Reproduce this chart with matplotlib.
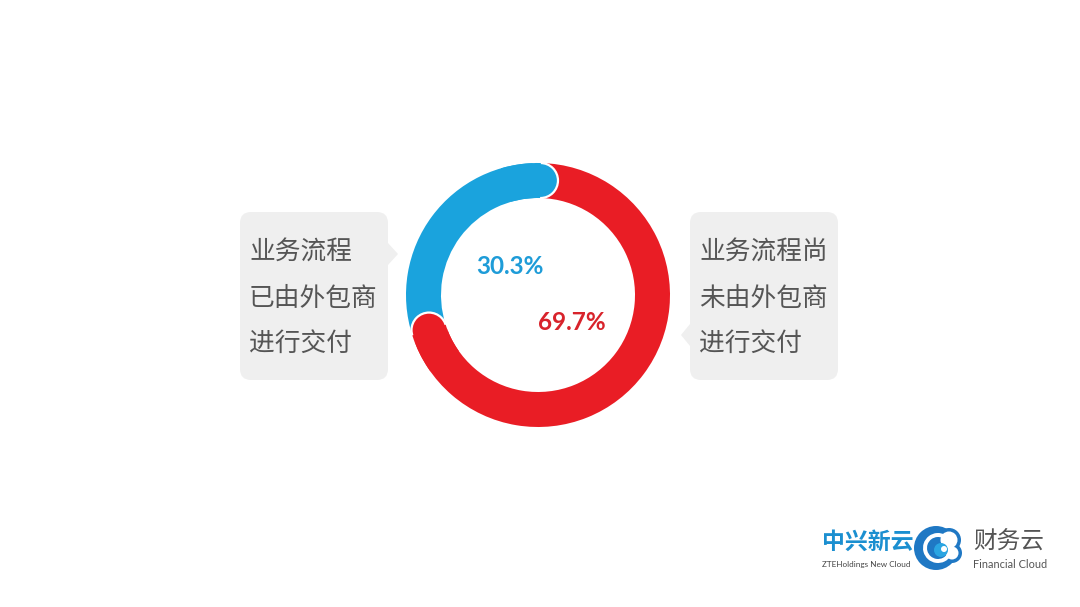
import numpy as np
import matplotlib
matplotlib.use("Agg")
import matplotlib.pyplot as plt
from matplotlib.patches import Wedge, Circle, FancyBboxPatch, Polygon

W, H = 1080, 607

# data
shares = [30.3, 69.7]
share_labels = ["30.3%", "69.7%"]
left_lines = ["业务流程", "已由外包商", "进行交付"]
right_lines = ["业务流程尚", "未由外包商", "进行交付"]
ring_colors = ["#1AA3DD", "#E91D25"]
pct_colors = ["#1E9CD8", "#D8232B"]

CJK = ["Noto Sans CJK SC", "DejaVu Sans"]
LAT = ["Lato", "DejaVu Sans"]


def Y(y):
    # image rows -> data y
    return H - y


fig = plt.figure(figsize=(W / 100, H / 100), dpi=100)
ax = fig.add_axes([0, 0, 1, 1])
ax.set_xlim(0, W); ax.set_ylim(0, H); ax.axis("off")
fig.patch.set_facecolor("white")

# ---- donut with rounded ends ----
cx, cy = 538, Y(295)
r_out, ring = 132, 35
r_mid = r_out - ring / 2
top = 80                                   # boundary at the top (deg)
cap = np.degrees((ring / 2) / r_mid)       # angle taken by a round cap

spans = np.array(shares) / sum(shares) * 360
starts = top + np.concatenate([[0], np.cumsum(spans)[:-1]])
for a0, sp, c in zip(starts, spans, ring_colors):
    ax.add_patch(Wedge((cx, cy), r_out, a0 + cap, a0 + sp + cap, width=ring,
                       facecolor=c, edgecolor="none", zorder=2))
for a0, c in zip(starts, ring_colors):
    t = np.radians(a0 + cap)
    ax.add_patch(Circle((cx + r_mid * np.cos(t), cy + r_mid * np.sin(t)), ring / 2,
                        facecolor=c, edgecolor="white", lw=1.6, zorder=3))
    ax.add_patch(Wedge((cx, cy), r_out, a0 + cap, a0 + 3 * cap, width=ring,
                       facecolor=c, edgecolor="none", zorder=4))

ax.text(510, Y(266), share_labels[0], color=pct_colors[0], fontsize=17.5,
        family=LAT, weight="bold", ha="center", va="center", zorder=5)
ax.text(572, Y(322), share_labels[1], color=pct_colors[1], fontsize=17.5,
        family=LAT, weight="bold", ha="center", va="center", zorder=5)

# ---- callout boxes ----
box_c = "#EFEFEF"
txt_c = "#555555"
for x0, pointer, lines in [
        (240, [(388, Y(243)), (398, Y(254)), (388, Y(265))], left_lines),
        (690, [(690, Y(324)), (681, Y(335)), (690, Y(346))], right_lines)]:
    ax.add_patch(FancyBboxPatch((x0, Y(380)), 148, 168,
                                boxstyle="round,pad=0,rounding_size=11",
                                facecolor=box_c, edgecolor="none", zorder=1))
    ax.add_patch(Polygon(pointer, closed=True, facecolor=box_c,
                         edgecolor="none", zorder=1))
    for yy, s in zip([253, 299, 344], lines):
        ax.text(x0 + 9, Y(yy), s, color=txt_c, fontsize=18.5, family=CJK,
                ha="left", va="center", zorder=2)

# ---- logo ----
ax.text(822, Y(542), "中兴新云", color="#1B8FD0", fontsize=16.5, family=CJK,
        ha="left", va="center", weight="bold")
ax.text(822, Y(564), "ZTEHoldings New Cloud", color="#444444", fontsize=5.9,
        family=LAT, ha="left", va="center")
lx, ly = 936, Y(548)
dark, light = "#1F78C4", "#2AA5E2"
ax.add_patch(Circle((lx, ly), 22, facecolor=dark, edgecolor="none", zorder=1))
ax.add_patch(Circle((lx + 13, ly + 8), 12, facecolor=dark, edgecolor="none", zorder=1))
ax.add_patch(Circle((lx + 16, ly - 5), 10, facecolor=dark, edgecolor="none", zorder=1))
ax.add_patch(Circle((lx + 13, ly + 8), 8.5, facecolor="white", edgecolor="none", zorder=2))
ax.add_patch(Circle((lx + 16, ly - 5), 6.5, facecolor="white", edgecolor="none", zorder=2))
ax.add_patch(Wedge((lx + 2, ly), 15, 60, 330, width=4, facecolor="white",
                   edgecolor="none", zorder=2))
ax.add_patch(Circle((lx + 5, ly - 2), 7, facecolor=light, edgecolor="none", zorder=3))
ax.add_patch(Circle((lx + 8, ly - 1), 3, facecolor="white", edgecolor="none", zorder=4))
ax.text(973, Y(542), "财务云", color="#555555", fontsize=17, family=CJK,
        ha="left", va="center")
ax.text(973, Y(565), "Financial Cloud", color="#555555", fontsize=7.9,
        family=LAT, ha="left", va="center")

fig.savefig("out.png", dpi=100, facecolor="white")
